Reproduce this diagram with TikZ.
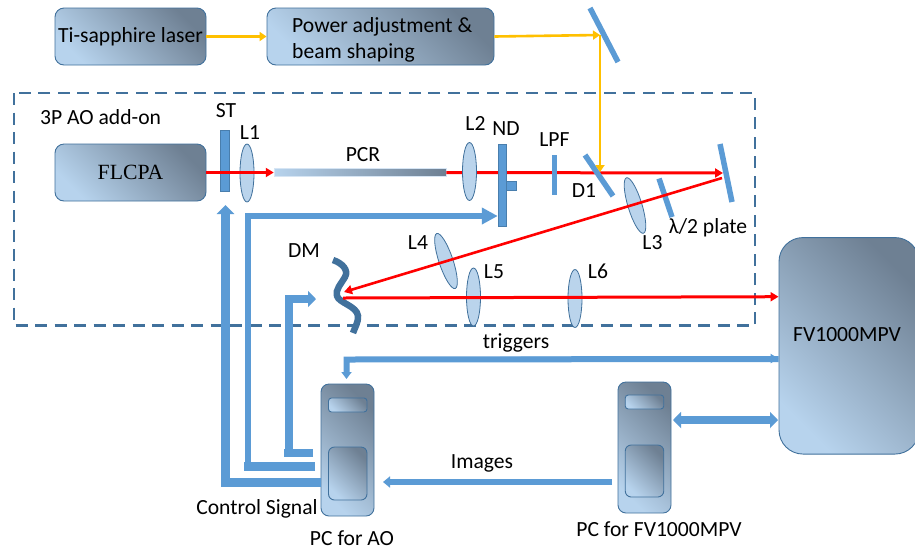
\documentclass[tikz,border=0pt]{standalone}
\usepackage{fontspec}
\setmainfont{Carlito}
\newfontfamily\serifface{Liberation Serif}
\usetikzlibrary{shapes.geometric,arrows.meta}
\definecolor{boxlight}{HTML}{B7D3ED}
\definecolor{boxdark}{HTML}{6E8093}
\definecolor{boxedge}{HTML}{41719C}
\definecolor{sigblue}{HTML}{5B9BD5}
\definecolor{lensfill}{HTML}{BAD4EC}
\definecolor{beamyellow}{HTML}{FFC000}
\tikzset{
  gradbox/.style={draw=boxedge,line width=0.9pt,rounded corners=#1,shading=axis,bottom color=boxlight,top color=boxdark,shading angle=-45,inner sep=0pt,text=black},
  gradbox/.default=9pt,
  lens/.style={ellipse,draw=boxedge,line width=0.8pt,fill=lensfill,minimum width=14pt,minimum height=58pt,inner sep=0pt},
  optic/.style={draw=boxedge!70!sigblue,fill=sigblue,line width=0.5pt,inner sep=0pt},
  plate/.style={line width=5.5pt,sigblue},
  lbl/.style={font=\fontsize{21.6}{26}\selectfont,inner sep=0pt,text=black},
  redbeam/.style={red,line width=3pt,-{Triangle[length=8pt,width=9pt]}},
  yellowbeam/.style={beamyellow,line width=2.6pt,-{Triangle[length=7pt,width=9pt]}},
  sigline/.style={sigblue,line width=#1,miter limit=10},
  sigline/.default=6pt,
}
\begin{document}
\begin{tikzpicture}[x=1pt,y=-1pt]
\useasboundingbox (0,0) rectangle (915,550);
\fill[white] (0,0) rectangle (915,550);
% dashed add-on region
\draw[boxedge,line width=2.4pt,dash pattern=on 12pt off 7.5pt] (14,93) rectangle (755,325.5);
% coordinates
\coordinate (mirTopA) at (590,8);
\coordinate (mirTopB) at (618,62);
\coordinate (yellowTurn) at (600,35);
\coordinate (yellowEnd) at (600,172);
\coordinate (mirRA) at (720,144);
\coordinate (mirRB) at (732,202);
\coordinate (mirRhit) at (723,173);
\coordinate (mirRout) at (722,178);
\coordinate (dmTip) at (344,292);
\coordinate (dmOut) at (343,298);
% laser boxes
\node[gradbox,minimum width=151pt,minimum height=57pt,lbl] (laser) at (130.5,36.5) {Ti-sapphire laser};
\node[gradbox,minimum width=227pt,minimum height=57pt] (power) at (380.5,36.5) {};
\node[lbl,anchor=west,align=left] (powertext) at (292,40) {Power adjustment \&\\beam shaping};
\node[gradbox,minimum width=151pt,minimum height=57pt] (flcpa) at (130.5,172.5) {\serifface\fontsize{21.7}{26}\selectfont FLCPA};
\node[minimum width=172pt,minimum height=8pt,inner sep=0pt,draw=lensfill!60,line width=0.5pt,shading=axis,left color=boxlight,right color=boxdark] (pcr) at (360,172.5) {};
% beam behind optics
\draw[redbeam] (pcr.east) -- (mirRhit);
% optics
\node[optic,minimum width=9pt,minimum height=61pt] (st) at (224.5,160.5) {};
\node[lens] (lone) at (247,173) {};
\node[lens] (ltwo) at (469.5,171.5) {};
\node[optic,minimum width=8pt,minimum height=82pt] (nd) at (502,185) {};
\node[optic,minimum width=10pt,minimum height=9pt] (ndtab) at (511,185.5) {};
\node[optic,draw=none,minimum width=5pt,minimum height=40pt] (lpf) at (554.5,175) {};
\node[lens,rotate=17] (lthree) at (635,205.5) {};
\node[lens,rotate=18.5] (lfour) at (446,261) {};
\node[lens] (lfive) at (473.5,297) {};
\node[lens] (lsix) at (575,298.5) {};
% plates
\draw[plate] (mirTopA) -- (mirTopB);
\draw[plate] (585,155) -- (613,196);
\draw[plate] (659,178.5) -- (672,217);
\draw[plate] (mirRA) -- (mirRB);
% FV1000MPV and PCs
\node[gradbox=24pt,minimum width=140pt,minimum height=216.5pt,lbl] (fv) at (849,345.8) {};
\node[lbl] (fvlabel) at (847,335) {FV1000MPV};
\node[gradbox=8pt,minimum width=53pt,minimum height=132pt] (pcao) at (347.5,450) {};
\node[gradbox=3pt,minimum width=38.5pt,minimum height=14pt] (pcaoa) at (347.75,405) {};
\node[gradbox=6pt,minimum width=38.5pt,minimum height=53pt] (pcaob) at (347.75,473.5) {};
\node[gradbox=8pt,minimum width=53pt,minimum height=131pt] (pcfv) at (644.5,447.5) {};
\node[gradbox=3pt,minimum width=38.5pt,minimum height=14pt] (pcfva) at (644.5,402) {};
\node[gradbox=6pt,minimum width=38.5pt,minimum height=52pt] (pcfvb) at (644.5,471) {};
% DM
\draw[boxedge,line width=6.5pt] (333,260) .. controls (342,263) and (349,270) .. (345,277) .. controls (341,284) and (335,290) .. (337,296) .. controls (339,303) and (357,306) .. (358,316) .. controls (358.5,322) and (355,327) .. (353,333);
% beams
\draw[yellowbeam] (laser.east) -- (power.west);
\draw[yellowbeam] (power.east) -- (yellowTurn);
\draw[yellowbeam] (yellowTurn) -- (yellowEnd);
\draw[redbeam] (flcpa.east) -- (pcr.west);
\draw[redbeam,line width=2.6pt] (mirRout) -- (dmTip);
\draw[redbeam] (dmOut) -- (fv.west |- 0,296.7);
% signal lines
\coordinate (sigAstart) at (321,482);
\coordinate (sigAcorner) at (225.5,482);
\coordinate (sigAend) at (225.5,205);
\draw[sigline=9pt,-{Triangle[length=9pt,width=17pt]}] (pcao.west |- sigAstart) -- (sigAcorner) -- (sigAend);
\coordinate (sigBstart) at (315,466.5);
\draw[sigline=9pt] (sigBstart) -- (244,466.5);
\draw[sigline=6.5pt,-{Triangle[length=16pt,width=16pt]}] (248,470) -- (248,216) -- (nd.west |- 0,216);
\coordinate (sigCstart) at (313,453);
\draw[sigline=8pt] (sigCstart) -- (284,453);
\draw[sigline=7.5pt,-{Triangle[length=8pt,width=16pt]}] (289,456) -- (289,299) -- (316,299);
\draw[sigline=6pt,-{Triangle[length=7pt,width=10pt]}] (fv.west |- 0,359) -- (346.5,359.5) -- (346.5,379);
\draw[sigline=5pt,-{Triangle[length=8pt,width=9pt]}] (500,359.3) -- (fv.west |- 0,358.5);
\draw[sigline=6pt,-{Triangle[length=7pt,width=11pt]}] (612,482) -- (383,482);
\draw[sigline=8pt,{Triangle[length=8pt,width=16pt]}-{Triangle[length=8pt,width=16pt]}] (673,420) -- (778,420);
% labels
\node[lbl,anchor=west] (addon) at (40,117) {3P AO add-on};
\node[lbl] (lst) at (226,111) {ST};
\node[lbl] (llone) at (250,133) {L1};
\node[lbl] (lpcr) at (363,155) {PCR};
\node[lbl] (ldm) at (304,251) {DM};
\node[lbl] (llfour) at (418,243) {L4};
\node[lbl] (lltwo) at (475.5,123) {L2};
\node[lbl] (lnd) at (506,129) {ND};
\node[lbl] (llpf) at (554.5,140) {LPF};
\node[lbl] (ldone) at (584,191) {D1};
\node[lbl] (llthree) at (652.5,243) {L3};
\node[lbl] (lhalf) at (708,228) {λ/2 plate};
\node[lbl] (llfive) at (494,272) {L5};
\node[lbl] (llsix) at (598,271) {L6};
\node[lbl] (ltrig) at (516,343) {triggers};
\node[lbl] (limg) at (482,463) {Images};
\node[lbl] (lctl) at (257,509) {Control Signal};
\node[lbl] (lpcao) at (352,538.5) {PC for AO};
\node[lbl] (lpcfv) at (659,529) {PC for FV1000MPV};
\end{tikzpicture}
\end{document}
